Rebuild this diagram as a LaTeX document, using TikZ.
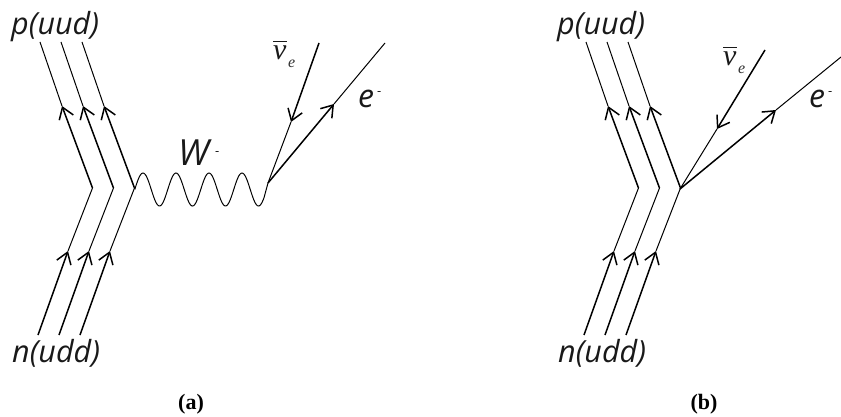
\documentclass[tikz,border=0pt]{standalone}
\usepackage{fontspec}
\usetikzlibrary{arrows.meta}
\setmainfont{Liberation Serif}
\newfontfamily\labelfont[ItalicFont=* Italic]{Open Sans}
\newcommand{\nubarsym}{$\overline{\rule{0pt}{17pt}\hbox{ν}}$}
\tikzset{
  thickline/.style={line width=1.5pt,-{Straight Barb[length=11pt,width=15pt,line width=1.5pt]}},
  thinline/.style={line width=1pt},
  wave/.style={line width=1pt},
  big/.style={inner sep=0pt,anchor=base west,font=\labelfont\itshape\fontsize{30.5}{32}\selectfont,text=black!90},
  sym/.style={inner sep=0pt,anchor=base west,font=\labelfont\itshape\fontsize{32}{34}\selectfont,text=black!90},
  wsym/.style={inner sep=0pt,anchor=base west,font=\labelfont\itshape\fontsize{36}{38}\selectfont,text=black!90},
  sup/.style={inner sep=0pt,anchor=base west,font=\labelfont\fontsize{13}{14}\selectfont,text=black!90},
  nubar/.style={inner sep=0pt,anchor=base west,font=\itshape\fontsize{30}{32}\selectfont,text=black!90},
  nusub/.style={inner sep=0pt,anchor=base west,font=\itshape\fontsize{16}{17}\selectfont,text=black!80},
  caption/.style={inner sep=0pt,anchor=base,font=\bfseries\fontsize{22}{24}\selectfont}
}
\begin{document}
\begin{tikzpicture}[x=1pt,y=-1pt]
\useasboundingbox (0,0) rectangle (841,417);
\foreach \n/\dx in {a1/0,a2/21,a3/42,b1/546,b2/567,b3/588}{
  \coordinate (\n top)  at ({40+\dx},42);
  \coordinate (\n tipu) at ({62+\dx},106);
  \coordinate (\n v)    at ({92.5+\dx},188);
  \coordinate (\n tipd) at ({68+\dx},251);
  \coordinate (\n bot)  at ({38+\dx},335);
  \draw[thickline] (\n v) -- (\n tipu);
  \draw[thinline] (\n tipu) -- (\n top);
  \draw[thickline] (\n bot) -- (\n tipd);
  \draw[thinline] (\n tipd) -- (\n v);
}
% panel a leptons
\coordinate (wend) at (268,183);
\coordinate (nuA) at (319,43);
\coordinate (nuAt) at (291,122);
\coordinate (eA) at (385,43);
\coordinate (eAt) at (334,104);
\draw[thickline] (nuA) -- (nuAt);
\draw[thinline] (nuAt) -- (wend);
\draw[thickline] (wend) -- (eAt);
\draw[thinline] (eAt) -- (eA);
\draw[wave] (a3v) -- plot[domain=135:264,samples=140] (\x,{189.5-16.5*cos(10.90909*(\x-143))}) -- (wend);
% panel b leptons
\coordinate (vb) at (680,189);
\coordinate (nuB) at (765,50);
\coordinate (nuBt) at (717,129);
\coordinate (eB) at (841,57);
\coordinate (eBt) at (776,110);
\draw[thickline] (nuB) -- (nuBt);
\draw[thinline] (nuBt) -- (vb);
\draw[thickline] (vb) -- (eBt);
\draw[thinline] (eBt) -- (eB);
% labels
\node[big] (pA) at (11,35) {p(uud)};
\node[big] (nA) at (12,362) {n(udd)};
\node[big] (pB) at (557,35) {p(uud)};
\node[big] (nB) at (558,362) {n(udd)};
\node[wsym] (W) at (178,166) {W};
\node[sup] (Wm) at (215,156) {-};
\node[sym] (eLA) at (358,108) {e};
\node[sup] (eLAm) at (377,96) {-};
\node[sym] (eLB) at (809,108) {e};
\node[sup] (eLBm) at (828,96) {-};
\node[nubar] (nuLA) at (273,60) {\nubarsym};
\node[nusub] (nuSA) at (288,68) {e};
\node[nubar] (nuLB) at (723,66) {\nubarsym};
\node[nusub] (nuSB) at (738,74) {e};
\node[caption] (ca) at (191,409) {(a)};
\node[caption] (cb) at (704,409) {(b)};
\end{tikzpicture}
\end{document}
